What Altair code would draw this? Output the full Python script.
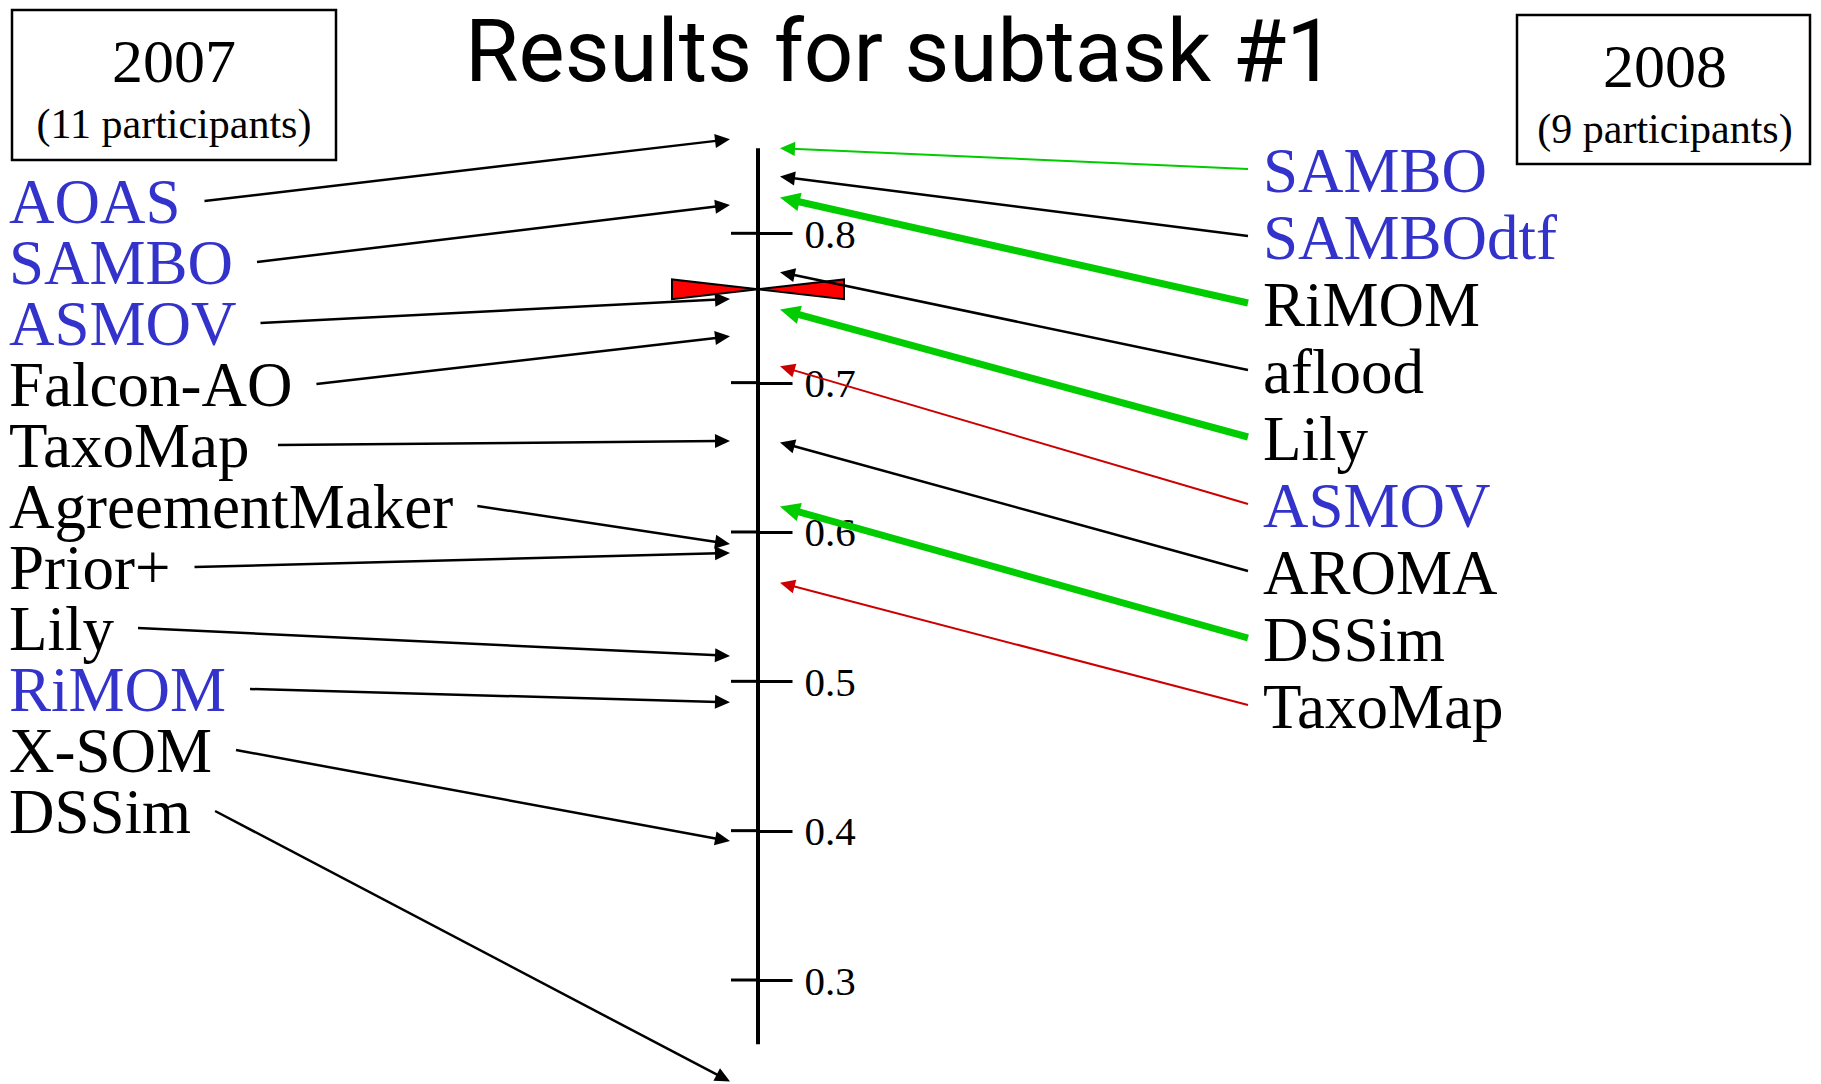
import math
import altair as alt
import pandas as pd

# ---------------- data ----------------
systems_2007 = ["AOAS", "SAMBO", "ASMOV", "Falcon-AO", "TaxoMap", "AgreementMaker",
                "Prior+", "Lily", "RiMOM", "X-SOM", "DSSim"]
scores_2007 = [0.863, 0.819, 0.756, 0.731, 0.661, 0.592, 0.586, 0.517, 0.486, 0.393, 0.232]
blue_2007 = [True, True, True, False, False, False, False, False, True, False, False]

systems_2008 = ["SAMBO", "SAMBOdtf", "RiMOM", "aflood", "Lily", "ASMOV", "AROMA",
                "DSSim", "TaxoMap"]
scores_2008 = [0.857, 0.838, 0.824, 0.774, 0.749, 0.711, 0.660, 0.617, 0.566]
blue_2008 = [True, True, False, False, False, True, False, False, False]

tick_values = [0.3, 0.4, 0.5, 0.6, 0.7, 0.8]
axis_span = [0.257, 0.857]
marker_score = [0.7625]
title_text = "Results for subtask #1"
years = ["2007", "2008"]

# ---------------- layout ----------------
W, H = 1805, 1076
PPU = 1493.4            # pixels per score unit
ROW_08 = 225.3          # pixel row of score 0.8
Y_MAX = 0.8 + ROW_08 / PPU
Y_MIN = Y_MAX - H / PPU
AXIS_X = 750
LEFT_TIP_X = 722
RIGHT_TIP_X = 772
LEFT_LABEL_X = 1
RIGHT_LABEL_X = 1255
RIGHT_START_X = 1240
FS = 63

BLUE, GREEN, RED, BLACK = "#3333CC", "#00CC00", "#CC0000", "black"

TIMES = {'A': .722, 'B': .667, 'D': .722, 'F': .556, 'L': .611, 'M': .889, 'O': .722,
         'P': .556, 'R': .667, 'S': .556, 'T': .611, 'V': .722, 'X': .722,
         'a': .444, 'c': .444, 'd': .5, 'e': .444, 'f': .333, 'g': .5, 'i': .278,
         'k': .5, 'l': .278, 'm': .778, 'n': .5, 'o': .5, 'p': .5, 'r': .333,
         's': .389, 't': .278, 'x': .5, 'y': .5, '-': .333, '+': .564}


def to_px(v):
    return (Y_MAX - v) * PPU


def to_score(p):
    return Y_MAX - p / PPU


def text_width(s, size):
    return sum(TIMES.get(c, 0.5) for c in s) * size


def arrow_rows(sx, sy_px, tx, score, head_size):
    ty_px = to_px(score)
    dx, dy = tx - sx, ty_px - sy_px
    L = math.hypot(dx, dy)
    ux, uy = dx / L, dy / L
    hl = math.sqrt(head_size) / 2
    ex, ey = tx - ux * hl * 0.8, ty_px - uy * hl * 0.8
    ang = math.degrees(math.atan2(dy, dx)) % 360
    return dict(sx=sx, sy=to_score(sy_px), ex=ex, ey=to_score(ey),
                tx=tx, ty=score, ang=ang, hs=head_size)


rows = []
for i, (name, sc, bl) in enumerate(zip(systems_2007, scores_2007, blue_2007)):
    base = 215 + 61 * i
    sx = LEFT_LABEL_X + text_width(name, FS) + 24
    r = dict(name=name, lx=LEFT_LABEL_X, ly=to_score(base),
             tcol=BLUE if bl else BLACK, lcol=BLACK, lw=2.5)
    r.update(arrow_rows(sx, base - 22, LEFT_TIP_X, sc, 900))
    rows.append(r)

prev = dict(zip(systems_2007, scores_2007))
for i, (name, sc, bl) in enumerate(zip(systems_2008, scores_2008, blue_2008)):
    base = 184 + 67 * i
    if name not in prev:
        col, lw, hs = BLACK, 2.5, 900
    elif sc > prev[name]:
        big = sc - prev[name] > 0.1
        col, lw, hs = GREEN, (7 if big else 2), (1600 if big else 900)
    else:
        col, lw, hs = RED, 2, 900
    r = dict(name=name, lx=RIGHT_LABEL_X, ly=to_score(base),
             tcol=BLUE if bl else BLACK, lcol=col, lw=lw)
    r.update(arrow_rows(RIGHT_START_X, base - 23, RIGHT_TIP_X, sc, hs))
    rows.append(r)

df = pd.DataFrame(rows)

XS = alt.Scale(domain=[0, W], nice=False, zero=False)
YS = alt.Scale(domain=[Y_MIN, Y_MAX], nice=False, zero=False)

# ---------------- layers ----------------
layers = []

# participant boxes
box_geo = [(4, 2, 328, 152, 166, 74, 130), (1509, 7, 1802, 156, 1657, 79, 135)]
counts = [len(systems_2007), len(systems_2008)]
for yr, n, (x1, y1, x2, y2, cx, yb1, yb2) in zip(years, counts, box_geo):
    bdf = pd.DataFrame({"year": [yr], "sub": [f"({n} participants)"]})
    layers.append(alt.Chart(bdf).mark_rect(fill="white", stroke="black", strokeWidth=2.5).encode(
        x=alt.value(x1), x2=alt.value(x2), y=alt.value(y1), y2=alt.value(y2)))
    layers.append(alt.Chart(bdf).mark_text(font="Liberation Serif", fontSize=62, align="center",
                                           baseline="alphabetic", color="black").encode(
        text="year:N", x=alt.value(cx), y=alt.value(yb1)))
    layers.append(alt.Chart(bdf).mark_text(font="Liberation Serif", fontSize=42, align="center",
                                           baseline="alphabetic", color="black").encode(
        text="sub:N", x=alt.value(cx), y=alt.value(yb2)))

# title
tdf = pd.DataFrame({"t": [title_text]})
layers.append(alt.Chart(tdf).mark_text(
    font="Roboto", fontSize=87, align="center", baseline="alphabetic", color="black").encode(
    text="t:N", x=alt.value(892), y=alt.value(73)))

# vertical score axis (line + real axis ticks/labels on the right, tick stubs on the left)
adf = pd.DataFrame({"lo": [axis_span[0]], "hi": [axis_span[1]]})
layers.append(alt.Chart(adf).mark_rule(color="black", strokeWidth=4).encode(
    x=alt.value(AXIS_X),
    y=alt.Y("lo:Q", scale=YS, axis=alt.Axis(
        orient="right", offset=AXIS_X - W, values=tick_values, format=".1f",
        domain=False, grid=False, ticks=True, tickSize=34, tickWidth=3, tickColor="black",
        labelFont="Liberation Serif", labelFontSize=41, labelColor="black",
        labelPadding=12, labelOffset=2, title=None)),
    y2="hi:Q"))

tdf2 = pd.DataFrame({"t": tick_values})
layers.append(alt.Chart(tdf2).mark_rule(color="black", strokeWidth=3).encode(
    x=alt.value(AXIS_X - 27), x2=alt.value(AXIS_X),
    y=alt.Y("t:Q", scale=YS)))

# red bow-tie marker
mdf = pd.DataFrame({"v": marker_score, "x": [AXIS_X]})
BOW = "M0,0L-1,-0.115L-1,0.115ZM0,0L1,-0.115L1,0.115Z"
layers.append(alt.Chart(mdf).mark_point(shape=BOW, filled=True, color="#FF0000", stroke="black",
                                        strokeWidth=2, size=172 ** 2, opacity=1).encode(
    x=alt.X("x:Q", scale=XS, axis=None), y=alt.Y("v:Q", scale=YS)))

# arrows
base = alt.Chart(df)
layers.append(base.mark_rule().encode(
    x=alt.X("sx:Q", scale=XS, axis=None), y=alt.Y("sy:Q", scale=YS),
    x2="ex:Q", y2="ey:Q",
    color=alt.Color("lcol:N", scale=None),
    strokeWidth=alt.StrokeWidth("lw:Q", scale=None)))

HEAD = "M0,0L-1,-0.47L-1,0.47Z"
layers.append(base.mark_point(shape=HEAD, filled=True, opacity=1, strokeWidth=0).encode(
    x=alt.X("tx:Q", scale=XS, axis=None), y=alt.Y("ty:Q", scale=YS),
    angle=alt.Angle("ang:Q", scale=None),
    size=alt.Size("hs:Q", scale=None),
    color=alt.Color("lcol:N", scale=None)))

# system labels
layers.append(base.mark_text(font="Liberation Serif", fontSize=FS, align="left",
                             baseline="alphabetic").encode(
    x=alt.X("lx:Q", scale=XS, axis=None), y=alt.Y("ly:Q", scale=YS),
    text="name:N", color=alt.Color("tcol:N", scale=None)))

chart = alt.layer(*layers).properties(
    width=W, height=H, padding=0, autosize="none", background="white"
).configure_view(stroke=None)

chart.save("out.html", embed_options={"renderer": "svg", "actions": False})
